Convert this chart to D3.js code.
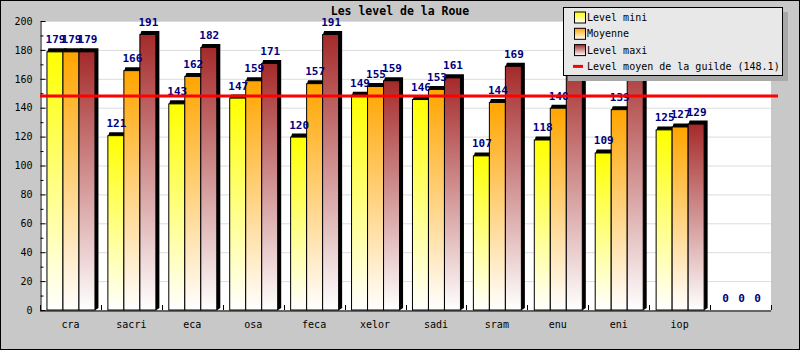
<!DOCTYPE html>
<html><head><meta charset="utf-8">
<script src="https://cdn.jsdelivr.net/npm/d3@7"></script>
<style>body{margin:0;background:#fff}svg{display:block}</style>
</head><body>
<script>
const categories = ["cra","sacri","eca","osa","feca","xelor","sadi","sram","enu","eni","iop",""];
const levelMini = [179,121,143,147,120,149,146,107,118,109,125,0];
const moyenne   = [179,166,162,159,157,155,153,144,140,139,127,0];
const levelMaxi = [179,191,182,171,191,159,161,169,176,183,129,0];
const seriesNames = ["Level mini","Moyenne","Level maxi"];
const seriesColors = ["#ffff00","#ffa500","#a52a2a"];
const guildAvg = 148.1;
const guildLabel = "Level moyen de la guilde (148.1)";
const yTicks = [0,20,40,60,80,100,120,140,160,180,200];
const title = "Les level de la Roue";

const W=800,H=350;
const svg=d3.select("body").append("svg").attr("width",W).attr("height",H);
const defs=svg.append("defs");
seriesColors.forEach((c,i)=>{
  const g=defs.append("linearGradient").attr("id","g"+i).attr("x1",0).attr("y1",0).attr("x2",0).attr("y2",1);
  g.append("stop").attr("offset",0).attr("stop-color",c);
  g.append("stop").attr("offset",1).attr("stop-color","#ffffff");
});
svg.append("rect").attr("x",0).attr("y",0).attr("width",W).attr("height",H).attr("fill","#c8c8c8");
svg.append("rect").attr("x",0.5).attr("y",0.5).attr("width",W-1).attr("height",H-1).attr("fill","none").attr("stroke","#000");

const L=40,R=771,T=21,B=310;
const x=d3.scaleBand().domain(categories.map((c,i)=>i)).range([L,R]).paddingInner(0).paddingOuter(0);
const y=d3.scaleLinear().domain([0,200]).range([B,T]);
const bw=16;
const xs=d3.scaleBand().domain([0,1,2]).range([0,bw*3]);
const off=(x.bandwidth()-bw*3)/2;

svg.append("rect").attr("x",L).attr("y",T).attr("width",R-L).attr("height",B-T).attr("fill","#fff");
// grid
svg.append("g").selectAll("line").data(yTicks.filter(v=>v>0)).join("line")
  .attr("x1",L).attr("x2",R).attr("y1",d=>y(d)+0.5).attr("y2",d=>y(d)+0.5).attr("stroke","#dcdcdc");

svg.append("text").attr("x",400).attr("y",15).attr("text-anchor","middle")
  .attr("font-family","DejaVu Sans Mono").attr("font-weight","bold").attr("font-size","11.5px").text(title);

const series=[levelMini,moyenne,levelMaxi];
const bars=[];
categories.forEach((c,i)=>{series.forEach((s,j)=>{bars.push({i,j,v:s[i]});});});
const gb=svg.append("g");
bars.forEach(b=>{
  if(b.v<=0) return;
  const x0=x(b.i)+off+xs(b.j), y0=y(b.v);
  const d=4, e=3;
  gb.append("path").attr("d",`M${x0+1},${y0} L${x0+2},${y0-e} L${x0+bw+d},${y0-e} L${x0+bw+d},${B-2} L${x0+bw+1},${B} L${x0+bw},${B} Z`).attr("fill","#000");
  gb.append("rect").attr("x",x0+0.5).attr("y",y0+0.5).attr("width",bw).attr("height",B-y0-0.5)
    .attr("fill",`url(#g${b.j})`).attr("stroke","#000").attr("stroke-width",1);
});
// value labels
svg.append("g").selectAll("text").data(bars).join("text")
  .attr("x",d=>x(d.i)+off+xs(d.j)+bw/2+1).attr("y",d=>y(d.v)-8)
  .attr("text-anchor","middle").attr("font-family","DejaVu Sans Mono").attr("font-weight","bold")
  .attr("font-size","11px").attr("fill","#000080").text(d=>d.v);

// axes
const ya=svg.append("g").attr("transform",`translate(${L+0.5},0)`)
  .call(d3.axisLeft(y).tickValues(yTicks).tickSize(-5).tickSizeOuter(0).tickPadding(8));
const ym=svg.append("g").attr("transform",`translate(${L+0.5},0)`)
  .call(d3.axisLeft(y).tickValues(d3.range(10,200,20)).tickSize(-3).tickSizeOuter(0).tickFormat(""));
ym.select(".domain").remove();
const xa=svg.append("g").attr("transform",`translate(0,${B+0.5})`)
  .call(d3.axisBottom(x).tickSize(0).tickPadding(10).tickFormat(i=>categories[i]));
xa.select(".domain").attr("d",`M${L},0.5H${R}`);
const bounds=categories.map((c,i)=>x(i)).concat([x.range()[1]]);
svg.append("g").selectAll("line").data(bounds).join("line")
  .attr("x1",d=>Math.round(d)+0.5).attr("x2",d=>Math.round(d)+0.5).attr("y1",B).attr("y2",B-5).attr("stroke","#000");
svg.selectAll(".tick text").attr("font-family","DejaVu Sans Mono").attr("font-size","10px").attr("fill","#000");
svg.selectAll(".domain").attr("stroke","#000");
svg.selectAll(".tick line").attr("stroke","#000");

// guild line
svg.append("line").attr("x1",L).attr("x2",778).attr("y1",y(guildAvg)).attr("y2",y(guildAvg))
  .attr("stroke","#ff0000").attr("stroke-width",3);

// legend
const lg=svg.append("g");
lg.append("rect").attr("x",568).attr("y",12).attr("width",220).attr("height",69).attr("fill","#a8a8a8");
lg.append("rect").attr("x",563.5).attr("y",7.5).attr("width",219).attr("height",68).attr("fill","#e8e8e8").attr("stroke","#000");
const items=seriesNames.map((n,j)=>({n,j})).concat([{n:guildLabel,j:-1}]);
items.forEach((it,k)=>{
  const cy=17.5+k*16.3;
  if(it.j>=0){
    lg.append("rect").attr("x",574.5).attr("y",cy-5.5).attr("width",11).attr("height",11)
      .attr("fill",`url(#g${it.j})`).attr("stroke","#000");
  } else {
    lg.append("line").attr("x1",573).attr("x2",583).attr("y1",cy).attr("y2",cy).attr("stroke","#ff0000").attr("stroke-width",3);
  }
  lg.append("text").attr("x",587).attr("y",cy+3.5).attr("font-family","DejaVu Sans Mono").attr("font-size","10px").text(it.n);
});
</script>
</body></html>
